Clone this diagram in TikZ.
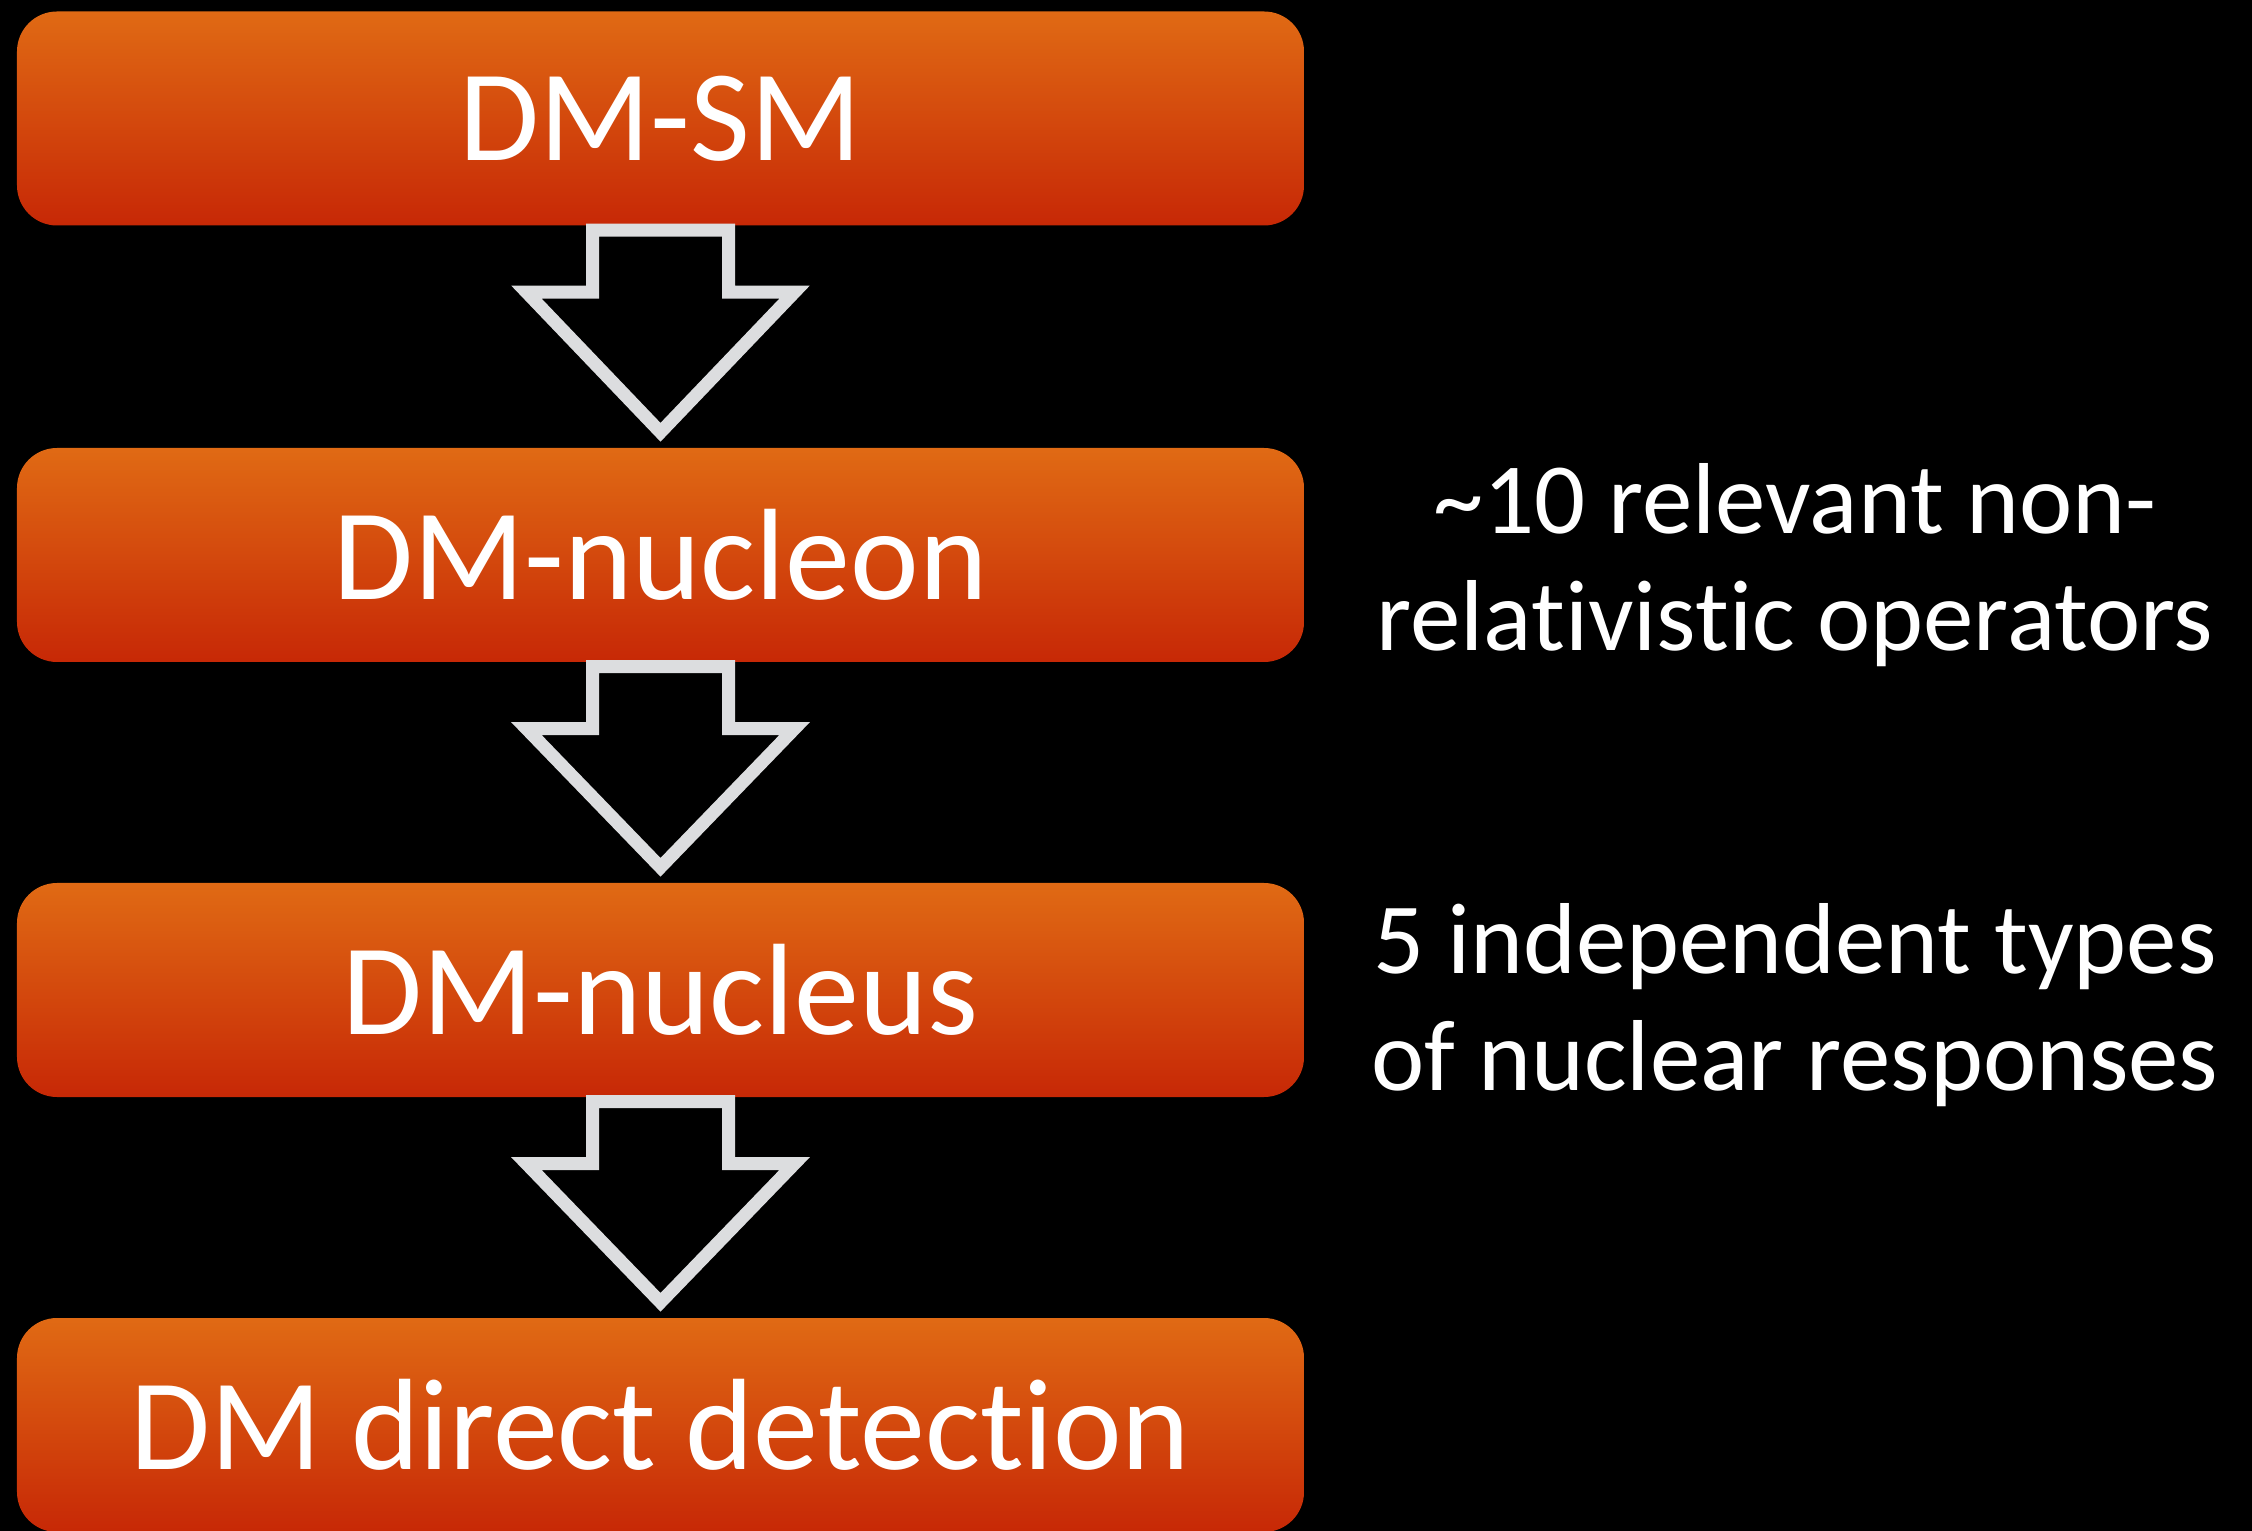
\documentclass[tikz,border=0pt]{standalone}
\usepackage{fontspec}
\setmainfont[Ligatures=NoCommon]{Carlito}
\usetikzlibrary{arrows.meta,positioning,calc}
\definecolor{boxtop}{RGB}{224,106,20}
\definecolor{boxbot}{RGB}{199,40,6}
\definecolor{arrowgray}{RGB}{220,221,223}

\tikzset{
  stage/.style={top color=boxtop, bottom color=boxbot, rounded corners=0.4cm,
    minimum width=12.87cm, minimum height=2.14cm, inner sep=0pt,
    text=white, font=\fontsize{37}{44}\selectfont},
  note/.style={text=white, align=center, inner sep=0pt,
    font=\fontsize{28.7}{33.5}\selectfont},
  hollowarrow/.style={draw=arrowgray, line width=0.13cm, miter limit=10,
    to path={($(\tikztostart)+(-0.68,-0.04)$) -- ($(\tikztostart)+(-0.68,-0.66)$)
      -- ($(\tikztostart)+(-1.34,-0.66)$) -- ($(\tikztotarget)+(0,0.15)$)
      -- ($(\tikztostart)+(1.34,-0.66)$) -- ($(\tikztostart)+(0.68,-0.66)$)
      -- ($(\tikztostart)+(0.68,-0.04)$) -- cycle}}
}

\begin{document}
\begin{tikzpicture}
\fill[black] (0,0) rectangle (22.52,-15.31);
\useasboundingbox (0,0) rectangle (22.52,-15.31);
\node[stage] (dmsm) at (6.605,-1.185) {DM-SM};
\node[stage] (nucleon) at (6.605,-5.55) {DM-nucleon};
\node[stage] (nucleus) at (6.605,-9.90) {DM-nucleus};
\node[stage] (detection) at (6.605,-14.25) {DM direct detection};
\draw[hollowarrow] (dmsm.south) to (nucleon.north);
\draw[hollowarrow] (nucleon.south) to (nucleus.north);
\draw[hollowarrow] (nucleus.south) to (detection.north);
\node[note] (operators) at (17.95,-5.65) {\textasciitilde10 relevant non-\\relativistic operators};
\node[note] (responses) at (17.95,-10.05) {5 independent types\\of nuclear responses};
\end{tikzpicture}
\end{document}
